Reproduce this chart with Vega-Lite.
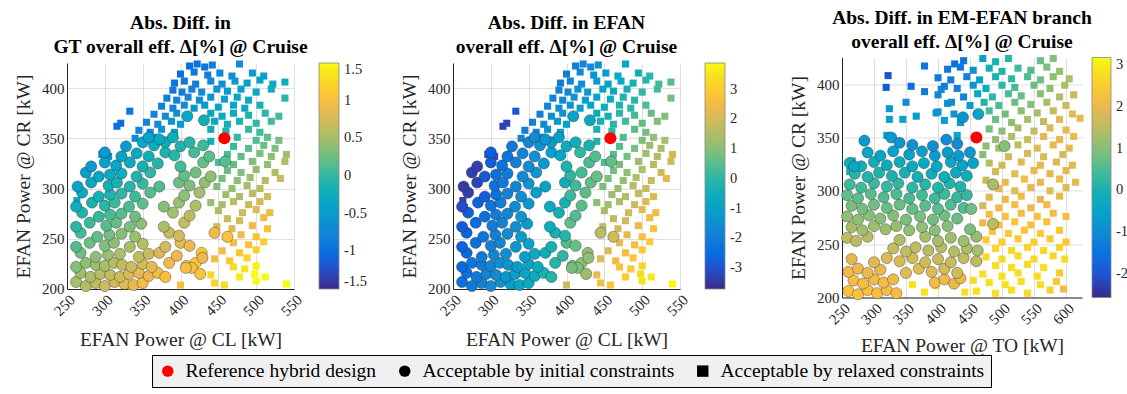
{
  "$schema": "https://vega.github.io/schema/vega-lite/v6.json",
  "background": "white",
  "padding": {"left": 13, "top": 7, "right": 0, "bottom": 0},
  "spacing": 45,
  "center": true,
  "config": {
    "font": "Liberation Serif",
    "view": {"stroke": null},
    "axis": {
      "labelFont": "Liberation Serif", "labelFontSize": 15, "labelColor": "#262626",
      "titleFont": "Liberation Serif", "titleFontSize": 19.5, "titleFontWeight": "normal", "titleColor": "#262626",
      "domainColor": "#262626", "gridColor": "#262626", "gridOpacity": 0.15,
      "ticks": false, "labelPadding": 3, "labelFlush": false, "labelOverlap": false
    },
    "axisX": {"titlePadding": 12},
    "axisY": {"titlePadding": 8},
    "title": {"font": "Liberation Serif", "fontSize": 19.5, "fontWeight": "bold", "lineHeight": 24, "color": "#000000", "frame": "group", "anchor": "middle", "offset": 3},
    "legend": {"layout": {"bottom": {"anchor": "middle"}}}
  },
  "datasets": {
    "cl_cr": [
      {"cl":262,"cr":207,"set":"i","gt":0.51,"ef":-2.4},{"cl":275,"cr":203,"set":"i","gt":0.58,"ef":-2.14},{"cl":288,"cr":206,"set":"i","gt":0.64,"ef":-1.88},{"cl":300,"cr":203,"set":"i","gt":0.70,"ef":-1.64},{"cl":313,"cr":207,"set":"i","gt":0.77,"ef":-1.38},{"cl":326,"cr":205,"set":"i","gt":0.83,"ef":-1.12},{"cl":338,"cr":204,"set":"i","gt":0.89,"ef":-0.88},{"cl":350,"cr":206,"set":"i","gt":0.95,"ef":-0.64},
      {"cl":268,"cr":216,"set":"i","gt":0.46,"ef":-2.35},{"cl":281,"cr":212,"set":"i","gt":0.53,"ef":-2.09},{"cl":294,"cr":215,"set":"i","gt":0.59,"ef":-1.83},{"cl":307,"cr":214,"set":"i","gt":0.66,"ef":-1.57},{"cl":320,"cr":212,"set":"i","gt":0.72,"ef":-1.31},{"cl":332,"cr":215,"set":"i","gt":0.78,"ef":-1.07},{"cl":345,"cr":216,"set":"i","gt":0.85,"ef":-0.81},{"cl":358,"cr":213,"set":"i","gt":0.91,"ef":-0.55},{"cl":370,"cr":216,"set":"i","gt":0.97,"ef":-0.31},{"cl":380,"cr":212,"set":"i","gt":1.02,"ef":-0.11},
      {"cl":262,"cr":222,"set":"i","gt":0.33,"ef":-2.55},{"cl":275,"cr":226,"set":"i","gt":0.40,"ef":-2.29},{"cl":288,"cr":224,"set":"i","gt":0.46,"ef":-2.03},{"cl":300,"cr":223,"set":"i","gt":0.52,"ef":-1.79},{"cl":312,"cr":226,"set":"i","gt":0.58,"ef":-1.55},{"cl":323,"cr":224,"set":"i","gt":0.64,"ef":-1.33},{"cl":335,"cr":222,"set":"i","gt":0.70,"ef":-1.09},{"cl":350,"cr":225,"set":"i","gt":0.77,"ef":-0.79},{"cl":362,"cr":222,"set":"i","gt":0.83,"ef":-0.55},{"cl":385,"cr":226,"set":"i","gt":0.95,"ef":-0.09},{"cl":408,"cr":223,"set":"i","gt":1.06,"ef":0.77},{"cl":420,"cr":226,"set":"i","gt":1.12,"ef":1.01},
      {"cl":268,"cr":236,"set":"i","gt":0.27,"ef":-2.51},{"cl":288,"cr":232,"set":"i","gt":0.37,"ef":-2.11},{"cl":304,"cr":234,"set":"i","gt":0.45,"ef":-1.79},{"cl":320,"cr":235,"set":"i","gt":0.53,"ef":-1.47},{"cl":345,"cr":232,"set":"i","gt":0.66,"ef":-0.97},{"cl":358,"cr":235,"set":"i","gt":0.72,"ef":-0.71},{"cl":372,"cr":236,"set":"i","gt":0.79,"ef":-0.43},{"cl":395,"cr":233,"set":"i","gt":0.91,"ef":0.03},{"cl":428,"cr":236,"set":"i","gt":1.07,"ef":1.09},
      {"cl":262,"cr":242,"set":"i","gt":0.14,"ef":-2.71},{"cl":280,"cr":246,"set":"i","gt":0.23,"ef":-2.35},{"cl":300,"cr":243,"set":"i","gt":0.33,"ef":-1.95},{"cl":312,"cr":246,"set":"i","gt":0.39,"ef":-1.71},{"cl":333,"cr":242,"set":"i","gt":0.50,"ef":-1.29},{"cl":350,"cr":245,"set":"i","gt":0.58,"ef":-0.95},{"cl":380,"cr":242,"set":"i","gt":0.73,"ef":-0.35},{"cl":400,"cr":246,"set":"i","gt":0.83,"ef":0.45},{"cl":412,"cr":243,"set":"i","gt":0.89,"ef":0.69},
      {"cl":268,"cr":256,"set":"i","gt":0.08,"ef":-2.67},{"cl":290,"cr":252,"set":"i","gt":0.19,"ef":-2.23},{"cl":306,"cr":254,"set":"i","gt":0.27,"ef":-1.91},{"cl":322,"cr":255,"set":"i","gt":0.35,"ef":-1.59},{"cl":340,"cr":252,"set":"i","gt":0.44,"ef":-1.23},{"cl":385,"cr":256,"set":"i","gt":0.67,"ef":-0.33},{"cl":398,"cr":253,"set":"i","gt":0.73,"ef":-0.07},{"cl":445,"cr":256,"set":"i","gt":0.97,"ef":1.7},{"cl":462,"cr":252,"set":"i","gt":1.05,"ef":2.0},
      {"cl":262,"cr":262,"set":"i","gt":-0.05,"ef":-2.87},{"cl":280,"cr":266,"set":"i","gt":0.04,"ef":-2.51},{"cl":302,"cr":263,"set":"i","gt":0.15,"ef":-2.07},{"cl":315,"cr":266,"set":"i","gt":0.22,"ef":-1.81},{"cl":333,"cr":262,"set":"i","gt":0.31,"ef":-1.45},{"cl":348,"cr":265,"set":"i","gt":0.38,"ef":-1.15},{"cl":378,"cr":262,"set":"i","gt":0.53,"ef":-0.55},{"cl":405,"cr":266,"set":"i","gt":0.67,"ef":0.59},
      {"cl":270,"cr":276,"set":"i","gt":-0.10,"ef":-2.79},{"cl":292,"cr":272,"set":"i","gt":0.01,"ef":-2.35},{"cl":307,"cr":274,"set":"i","gt":0.09,"ef":-2.05},{"cl":322,"cr":275,"set":"i","gt":0.16,"ef":-1.75},{"cl":340,"cr":272,"set":"i","gt":0.25,"ef":-1.39},{"cl":390,"cr":276,"set":"i","gt":0.50,"ef":-0.39},{"cl":412,"cr":273,"set":"i","gt":0.61,"ef":0.45},
      {"cl":262,"cr":282,"set":"i","gt":-0.24,"ef":-3.1},{"cl":283,"cr":286,"set":"i","gt":-0.14,"ef":-2.7},{"cl":300,"cr":283,"set":"i","gt":-0.05,"ef":-2.27},{"cl":313,"cr":286,"set":"i","gt":0.02,"ef":-2.01},{"cl":332,"cr":282,"set":"i","gt":0.11,"ef":-1.63},{"cl":350,"cr":285,"set":"i","gt":0.20,"ef":-1.27},{"cl":378,"cr":282,"set":"i","gt":0.34,"ef":-0.71},{"cl":398,"cr":286,"set":"i","gt":0.44,"ef":-0.31},{"cl":420,"cr":283,"set":"i","gt":0.55,"ef":0.53},
      {"cl":270,"cr":296,"set":"i","gt":-0.29,"ef":-3.3},{"cl":292,"cr":292,"set":"i","gt":-0.18,"ef":-2.8},{"cl":307,"cr":294,"set":"i","gt":-0.11,"ef":-2.3},{"cl":322,"cr":295,"set":"i","gt":-0.03,"ef":-1.91},{"cl":340,"cr":292,"set":"i","gt":0.06,"ef":-1.55},{"cl":360,"cr":296,"set":"i","gt":0.16,"ef":-1.15},{"cl":405,"cr":293,"set":"i","gt":0.39,"ef":0.15},{"cl":425,"cr":296,"set":"i","gt":0.49,"ef":0.55},
      {"cl":264,"cr":302,"set":"i","gt":-0.42,"ef":-3.4},{"cl":282,"cr":306,"set":"i","gt":-0.33,"ef":-3.2},{"cl":305,"cr":303,"set":"i","gt":-0.22,"ef":-2.4},{"cl":316,"cr":306,"set":"i","gt":-0.16,"ef":-2.11},{"cl":333,"cr":302,"set":"i","gt":-0.08,"ef":-1.77},{"cl":350,"cr":305,"set":"i","gt":0.01,"ef":-1.43},{"cl":372,"cr":302,"set":"i","gt":0.12,"ef":-0.99},{"cl":398,"cr":306,"set":"i","gt":0.25,"ef":-0.47},{"cl":412,"cr":303,"set":"i","gt":0.32,"ef":0.21},{"cl":432,"cr":306,"set":"i","gt":0.42,"ef":0.61},
      {"cl":275,"cr":316,"set":"i","gt":-0.46,"ef":-3.3},{"cl":292,"cr":312,"set":"i","gt":-0.37,"ef":-2.9},{"cl":307,"cr":314,"set":"i","gt":-0.29,"ef":-2.4},{"cl":322,"cr":315,"set":"i","gt":-0.22,"ef":-2.07},{"cl":342,"cr":312,"set":"i","gt":-0.12,"ef":-1.67},{"cl":360,"cr":316,"set":"i","gt":-0.03,"ef":-1.31},{"cl":405,"cr":313,"set":"i","gt":0.20,"ef":0.0},{"cl":420,"cr":316,"set":"i","gt":0.27,"ef":0.29},{"cl":440,"cr":312,"set":"i","gt":0.37,"ef":0.69},
      {"cl":282,"cr":322,"set":"i","gt":-0.52,"ef":-3.3},{"cl":300,"cr":326,"set":"i","gt":-0.43,"ef":-2.8},{"cl":315,"cr":323,"set":"i","gt":-0.36,"ef":-2.29},{"cl":333,"cr":326,"set":"i","gt":-0.27,"ef":-1.93},{"cl":350,"cr":322,"set":"i","gt":-0.18,"ef":-1.59},{"cl":370,"cr":325,"set":"i","gt":-0.08,"ef":-1.19},{"cl":400,"cr":322,"set":"i","gt":0.07,"ef":-0.19},{"cl":430,"cr":326,"set":"i","gt":0.22,"ef":0.41},
      {"cl":300,"cr":336,"set":"i","gt":-0.52,"ef":-2.7},{"cl":322,"cr":332,"set":"i","gt":-0.41,"ef":-2.23},{"cl":342,"cr":335,"set":"i","gt":-0.31,"ef":-1.83},{"cl":358,"cr":332,"set":"i","gt":-0.23,"ef":-1.51},{"cl":380,"cr":336,"set":"i","gt":-0.12,"ef":-1.07},{"cl":392,"cr":333,"set":"i","gt":-0.06,"ef":-0.83},{"cl":418,"cr":336,"set":"i","gt":0.07,"ef":0.09},{"cl":438,"cr":332,"set":"i","gt":0.17,"ef":0.49},
      {"cl":328,"cr":342,"set":"i","gt":-0.48,"ef":-2.19},{"cl":350,"cr":346,"set":"i","gt":-0.37,"ef":-1.75},{"cl":365,"cr":343,"set":"i","gt":-0.30,"ef":-1.45},{"cl":380,"cr":346,"set":"i","gt":-0.22,"ef":-1.15},{"cl":400,"cr":342,"set":"i","gt":-0.12,"ef":-0.6},{"cl":412,"cr":346,"set":"i","gt":-0.06,"ef":-0.45},{"cl":430,"cr":343,"set":"i","gt":0.03,"ef":-0.3},
      {"cl":358,"cr":351,"set":"i","gt":-0.39,"ef":-1.64},{"cl":372,"cr":349,"set":"i","gt":-0.32,"ef":-1.36},{"cl":390,"cr":351,"set":"i","gt":-0.23,"ef":-1.0},
      {"cl":409,"cr":372,"set":"i","gt":-0.34,"ef":-0.9},{"cl":431,"cr":368,"set":"i","gt":-0.19,"ef":-0.7},{"cl":459,"cr":327,"set":"i","gt":0.15,"ef":0.6},{"cl":429,"cr":231,"set":"i","gt":0.9,"ef":1.1},{"cl":415,"cr":221,"set":"i","gt":1.0,"ef":0.9},{"cl":426,"cr":215,"set":"i","gt":1.1,"ef":1.3},{"cl":407,"cr":221,"set":"i","gt":1.0,"ef":0.8},

      {"cl":412,"cr":422,"set":"r","gt":-1.0,"ef":-1.96},{"cl":422,"cr":424,"set":"r","gt":-0.95,"ef":-1.79},{"cl":432,"cr":421,"set":"r","gt":-0.90,"ef":-1.61},{"cl":442,"cr":423,"set":"r","gt":-0.85,"ef":-1.44},{"cl":478,"cr":424,"set":"r","gt":-0.67,"ef":-0.82},
      {"cl":400,"cr":414,"set":"r","gt":-0.98,"ef":-2.02},{"cl":418,"cr":416,"set":"r","gt":-0.89,"ef":-1.71},{"cl":436,"cr":413,"set":"r","gt":-0.80,"ef":-1.40},{"cl":452,"cr":415,"set":"r","gt":-0.72,"ef":-1.12},{"cl":468,"cr":412,"set":"r","gt":-0.64,"ef":-0.84},{"cl":495,"cr":415,"set":"r","gt":-0.51,"ef":-0.38},{"cl":510,"cr":412,"set":"r","gt":-0.43,"ef":-0.12},
      {"cl":392,"cr":405,"set":"r","gt":-0.95,"ef":-2.01},{"cl":405,"cr":407,"set":"r","gt":-0.88,"ef":-1.79},{"cl":420,"cr":404,"set":"r","gt":-0.81,"ef":-1.53},{"cl":440,"cr":407,"set":"r","gt":-0.71,"ef":-1.18},{"cl":455,"cr":404,"set":"r","gt":-0.63,"ef":-0.92},{"cl":472,"cr":407,"set":"r","gt":-0.55,"ef":-0.63},{"cl":488,"cr":405,"set":"r","gt":-0.47,"ef":-0.35},{"cl":505,"cr":408,"set":"r","gt":-0.38,"ef":-0.06},{"cl":522,"cr":404,"set":"r","gt":-0.30,"ef":0.24},{"cl":538,"cr":406,"set":"r","gt":-0.22,"ef":0.51},
      {"cl":390,"cr":398,"set":"r","gt":-0.88,"ef":-1.90},{"cl":402,"cr":396,"set":"r","gt":-0.82,"ef":-1.69},{"cl":415,"cr":399,"set":"r","gt":-0.76,"ef":-1.47},{"cl":428,"cr":396,"set":"r","gt":-0.69,"ef":-1.24},{"cl":448,"cr":399,"set":"r","gt":-0.59,"ef":-0.90},{"cl":462,"cr":397,"set":"r","gt":-0.52,"ef":-0.65},{"cl":480,"cr":399,"set":"r","gt":-0.43,"ef":-0.34},{"cl":500,"cr":396,"set":"r","gt":-0.33,"ef":0.0},{"cl":520,"cr":399,"set":"r","gt":-0.23,"ef":0.35},
      {"cl":382,"cr":390,"set":"r","gt":-0.85,"ef":-1.89},{"cl":395,"cr":388,"set":"r","gt":-0.78,"ef":-1.67},{"cl":410,"cr":391,"set":"r","gt":-0.71,"ef":-1.41},{"cl":425,"cr":388,"set":"r","gt":-0.63,"ef":-1.15},{"cl":440,"cr":391,"set":"r","gt":-0.56,"ef":-0.89},{"cl":458,"cr":389,"set":"r","gt":-0.47,"ef":-0.58},{"cl":475,"cr":391,"set":"r","gt":-0.38,"ef":-0.28},{"cl":490,"cr":388,"set":"r","gt":-0.31,"ef":-0.02},{"cl":538,"cr":390,"set":"r","gt":-0.07,"ef":0.81},
      {"cl":375,"cr":382,"set":"r","gt":-0.80,"ef":-1.87},{"cl":390,"cr":380,"set":"r","gt":-0.73,"ef":-1.61},{"cl":405,"cr":383,"set":"r","gt":-0.65,"ef":-1.35},{"cl":418,"cr":380,"set":"r","gt":-0.59,"ef":-1.12},{"cl":432,"cr":383,"set":"r","gt":-0.52,"ef":-0.88},{"cl":450,"cr":381,"set":"r","gt":-0.43,"ef":-0.57},{"cl":470,"cr":383,"set":"r","gt":-0.33,"ef":-0.22},{"cl":485,"cr":380,"set":"r","gt":-0.25,"ef":0.04},{"cl":505,"cr":383,"set":"r","gt":-0.15,"ef":0.38},
      {"cl":365,"cr":374,"set":"r","gt":-0.78,"ef":-1.89},{"cl":380,"cr":372,"set":"r","gt":-0.70,"ef":-1.63},{"cl":395,"cr":375,"set":"r","gt":-0.63,"ef":-1.37},{"cl":410,"cr":372,"set":"r","gt":-0.55,"ef":-1.11},{"cl":440,"cr":375,"set":"r","gt":-0.40,"ef":-0.60},{"cl":455,"cr":372,"set":"r","gt":-0.33,"ef":-0.34},{"cl":470,"cr":375,"set":"r","gt":-0.25,"ef":-0.08},{"cl":490,"cr":373,"set":"r","gt":-0.15,"ef":0.27},{"cl":512,"cr":375,"set":"r","gt":-0.04,"ef":0.65},{"cl":530,"cr":372,"set":"r","gt":0.05,"ef":0.96},
      {"cl":355,"cr":366,"set":"r","gt":-0.75,"ef":-1.92},{"cl":370,"cr":364,"set":"r","gt":-0.68,"ef":-1.66},{"cl":388,"cr":367,"set":"r","gt":-0.59,"ef":-1.35},{"cl":400,"cr":364,"set":"r","gt":-0.53,"ef":-1.14},{"cl":445,"cr":367,"set":"r","gt":-0.30,"ef":-0.36},{"cl":462,"cr":364,"set":"r","gt":-0.22,"ef":-0.07},{"cl":478,"cr":367,"set":"r","gt":-0.14,"ef":0.21},{"cl":500,"cr":365,"set":"r","gt":-0.03,"ef":0.59},{"cl":520,"cr":367,"set":"r","gt":0.07,"ef":0.94},
      {"cl":345,"cr":358,"set":"r","gt":-0.73,"ef":-1.95},{"cl":360,"cr":356,"set":"r","gt":-0.65,"ef":-1.69},{"cl":375,"cr":359,"set":"r","gt":-0.58,"ef":-1.43},{"cl":392,"cr":356,"set":"r","gt":-0.49,"ef":-1.13},{"cl":440,"cr":359,"set":"r","gt":-0.25,"ef":-0.30},{"cl":460,"cr":357,"set":"r","gt":-0.15,"ef":0.04},{"cl":490,"cr":359,"set":"r","gt":0.0,"ef":0.56},{"cl":505,"cr":356,"set":"r","gt":0.07,"ef":0.82},
      {"cl":340,"cr":350,"set":"r","gt":-0.68,"ef":-1.89},{"cl":352,"cr":348,"set":"r","gt":-0.62,"ef":-1.68},{"cl":368,"cr":351,"set":"r","gt":-0.54,"ef":-1.40},{"cl":380,"cr":348,"set":"r","gt":-0.48,"ef":-1.19},{"cl":440,"cr":347,"set":"r","gt":-0.18,"ef":-0.16},{"cl":475,"cr":351,"set":"r","gt":0.0,"ef":0.45},{"cl":500,"cr":348,"set":"r","gt":0.13,"ef":0.88},{"cl":515,"cr":351,"set":"r","gt":0.20,"ef":1.14},{"cl":530,"cr":348,"set":"r","gt":0.28,"ef":1.40},
      {"cl":470,"cr":342,"set":"r","gt":0.05,"ef":0.51},{"cl":490,"cr":340,"set":"r","gt":0.15,"ef":0.86},{"cl":510,"cr":343,"set":"r","gt":0.25,"ef":1.20},{"cl":525,"cr":340,"set":"r","gt":0.33,"ef":1.46},
      {"cl":462,"cr":334,"set":"r","gt":0.09,"ef":0.52},{"cl":480,"cr":332,"set":"r","gt":0.18,"ef":0.83},{"cl":505,"cr":335,"set":"r","gt":0.30,"ef":1.26},{"cl":520,"cr":332,"set":"r","gt":0.38,"ef":1.52},{"cl":540,"cr":334,"set":"r","gt":0.48,"ef":1.87},
      {"cl":450,"cr":326,"set":"r","gt":0.10,"ef":0.46},{"cl":470,"cr":324,"set":"r","gt":0.20,"ef":0.80},{"cl":495,"cr":327,"set":"r","gt":0.33,"ef":1.23},{"cl":515,"cr":324,"set":"r","gt":0.43,"ef":1.58},{"cl":538,"cr":327,"set":"r","gt":0.54,"ef":1.98},
      {"cl":462,"cr":318,"set":"r","gt":0.24,"ef":0.81},{"cl":480,"cr":316,"set":"r","gt":0.33,"ef":1.12},{"cl":500,"cr":319,"set":"r","gt":0.43,"ef":1.47},{"cl":525,"cr":316,"set":"r","gt":0.55,"ef":1.90},
      {"cl":455,"cr":310,"set":"r","gt":0.28,"ef":0.84},{"cl":475,"cr":308,"set":"r","gt":0.38,"ef":1.18},{"cl":492,"cr":311,"set":"r","gt":0.47,"ef":1.48},{"cl":512,"cr":308,"set":"r","gt":0.57,"ef":1.82},{"cl":532,"cr":310,"set":"r","gt":0.67,"ef":2.17},
      {"cl":448,"cr":302,"set":"r","gt":0.32,"ef":0.86},{"cl":468,"cr":300,"set":"r","gt":0.42,"ef":1.21},{"cl":488,"cr":303,"set":"r","gt":0.52,"ef":1.55},{"cl":505,"cr":300,"set":"r","gt":0.61,"ef":1.85},
      {"cl":460,"cr":294,"set":"r","gt":0.46,"ef":1.22},{"cl":478,"cr":292,"set":"r","gt":0.55,"ef":1.53},{"cl":495,"cr":295,"set":"r","gt":0.63,"ef":1.82},{"cl":515,"cr":292,"set":"r","gt":0.73,"ef":2.17},
      {"cl":440,"cr":286,"set":"r","gt":0.43,"ef":1.02},{"cl":455,"cr":284,"set":"r","gt":0.51,"ef":1.27},{"cl":470,"cr":287,"set":"r","gt":0.58,"ef":1.53},{"cl":490,"cr":284,"set":"r","gt":0.68,"ef":1.88},{"cl":505,"cr":287,"set":"r","gt":0.76,"ef":2.14},
      {"cl":450,"cr":278,"set":"r","gt":0.56,"ef":1.34},{"cl":482,"cr":276,"set":"r","gt":0.72,"ef":1.89},{"cl":500,"cr":279,"set":"r","gt":0.81,"ef":2.20},{"cl":518,"cr":276,"set":"r","gt":0.90,"ef":2.51},
      {"cl":462,"cr":270,"set":"r","gt":0.70,"ef":1.69},{"cl":478,"cr":268,"set":"r","gt":0.78,"ef":1.97},{"cl":510,"cr":271,"set":"r","gt":0.94,"ef":2.52},
      {"cl":448,"cr":262,"set":"r","gt":0.70,"ef":1.59},{"cl":468,"cr":260,"set":"r","gt":0.80,"ef":1.94},{"cl":495,"cr":263,"set":"r","gt":0.94,"ef":2.41},{"cl":515,"cr":260,"set":"r","gt":1.04,"ef":2.75},
      {"cl":480,"cr":254,"set":"r","gt":0.94,"ef":2.29},{"cl":500,"cr":252,"set":"r","gt":1.04,"ef":2.64},
      {"cl":470,"cr":246,"set":"r","gt":0.96,"ef":2.27},{"cl":490,"cr":244,"set":"r","gt":1.06,"ef":2.61},{"cl":510,"cr":247,"set":"r","gt":1.16,"ef":2.96},
      {"cl":455,"cr":238,"set":"r","gt":0.96,"ef":2.15},{"cl":478,"cr":236,"set":"r","gt":1.08,"ef":2.55},{"cl":500,"cr":239,"set":"r","gt":1.19,"ef":2.93},
      {"cl":445,"cr":230,"set":"r","gt":0.99,"ef":2.13},{"cl":465,"cr":228,"set":"r","gt":1.09,"ef":2.47},{"cl":488,"cr":231,"set":"r","gt":1.21,"ef":2.87},
      {"cl":470,"cr":222,"set":"r","gt":1.29,"ef":2.71},{"cl":485,"cr":220,"set":"r","gt":1.37,"ef":2.96},{"cl":500,"cr":223,"set":"r","gt":1.44,"ef":3.22},
      {"cl":440,"cr":214,"set":"r","gt":1.22,"ef":2.33},{"cl":478,"cr":212,"set":"r","gt":1.41,"ef":2.99},{"cl":498,"cr":215,"set":"r","gt":1.5,"ef":3.34},{"cl":512,"cr":212,"set":"r","gt":1.5,"ef":3.58},
      {"cl":335,"cr":203,"set":"r","gt":1.0,"ef":0.0},{"cl":400,"cr":204,"set":"r","gt":0.99,"ef":1.79},{"cl":445,"cr":206,"set":"r","gt":1.22,"ef":2.57},{"cl":458,"cr":204,"set":"r","gt":1.28,"ef":2.79},{"cl":500,"cr":208,"set":"r","gt":1.49,"ef":3.52},{"cl":540,"cr":205,"set":"r","gt":1.5,"ef":3.8},
      {"cl":316,"cr":362,"set":"r","gt":-1.0,"ef":-3.3},{"cl":321,"cr":365,"set":"r","gt":-1.0,"ef":-3.2},{"cl":333,"cr":377,"set":"r","gt":-0.9,"ef":-2.9},{"cl":296,"cr":334,"set":"r","gt":-0.65,"ef":-3.2},{"cl":305,"cr":332,"set":"r","gt":-0.6,"ef":-3.1},{"cl":263,"cr":288,"set":"r","gt":-0.35,"ef":-3.3},{"cl":265,"cr":281,"set":"r","gt":-0.3,"ef":-3.2}
    ],
    "to_cr": [
      {"to":260,"cr":206,"set":"i","br":2.33},{"to":275,"cr":203,"set":"i","br":2.3},{"to":290,"cr":207,"set":"i","br":2.27},{"to":305,"cr":204,"set":"i","br":2.24},{"to":320,"cr":207,"set":"i","br":2.21},{"to":335,"cr":204,"set":"i","br":2.18},
      {"to":268,"cr":216,"set":"i","br":2.21},{"to":283,"cr":213,"set":"i","br":2.18},{"to":300,"cr":217,"set":"i","br":2.15},{"to":315,"cr":214,"set":"i","br":2.12},{"to":330,"cr":217,"set":"i","br":2.09},{"to":395,"cr":214,"set":"i","br":2.1},{"to":410,"cr":217,"set":"i","br":2.1},{"to":425,"cr":213,"set":"i","br":2.05},{"to":435,"cr":218,"set":"i","br":2.05},
      {"to":260,"cr":224,"set":"i","br":2.08},{"to":275,"cr":227,"set":"i","br":2.05},{"to":290,"cr":223,"set":"i","br":2.02},{"to":310,"cr":226,"set":"i","br":1.98},{"to":350,"cr":223,"set":"i","br":1.9},{"to":370,"cr":227,"set":"i","br":1.86},{"to":390,"cr":224,"set":"i","br":1.82},{"to":410,"cr":227,"set":"i","br":1.78},{"to":430,"cr":223,"set":"i","br":1.74},
      {"to":265,"cr":236,"set":"i","br":1.92},{"to":300,"cr":233,"set":"i","br":1.85},{"to":320,"cr":237,"set":"i","br":1.81},{"to":340,"cr":234,"set":"i","br":1.77},{"to":360,"cr":237,"set":"i","br":1.73},{"to":380,"cr":233,"set":"i","br":1.69},{"to":400,"cr":236,"set":"i","br":1.65},{"to":420,"cr":233,"set":"i","br":1.61},{"to":440,"cr":237,"set":"i","br":1.57},{"to":460,"cr":234,"set":"i","br":1.53},
      {"to":330,"cr":246,"set":"i","br":1.59},{"to":350,"cr":243,"set":"i","br":1.55},{"to":365,"cr":247,"set":"i","br":1.52},{"to":385,"cr":244,"set":"i","br":1.48},{"to":405,"cr":247,"set":"i","br":1.44},{"to":425,"cr":243,"set":"i","br":1.40},{"to":445,"cr":246,"set":"i","br":1.36},{"to":462,"cr":244,"set":"i","br":1.33},
      {"to":258,"cr":256,"set":"i","br":1.53},{"to":272,"cr":253,"set":"i","br":1.51},{"to":290,"cr":257,"set":"i","br":1.47},{"to":340,"cr":254,"set":"i","br":1.37},{"to":380,"cr":257,"set":"i","br":1.29},{"to":400,"cr":253,"set":"i","br":1.25},{"to":420,"cr":256,"set":"i","br":1.21},{"to":440,"cr":253,"set":"i","br":1.17},{"to":460,"cr":257,"set":"i","br":1.13},
      {"to":265,"cr":266,"set":"i","br":1.27},{"to":282,"cr":263,"set":"i","br":1.24},{"to":300,"cr":267,"set":"i","br":1.2},{"to":318,"cr":264,"set":"i","br":1.16},{"to":335,"cr":267,"set":"i","br":1.13},{"to":355,"cr":263,"set":"i","br":1.09},{"to":375,"cr":266,"set":"i","br":1.05},{"to":395,"cr":263,"set":"i","br":1.01},{"to":415,"cr":267,"set":"i","br":0.97},{"to":450,"cr":264,"set":"i","br":0.9},{"to":486,"cr":269,"set":"i","br":1.5},
      {"to":258,"cr":276,"set":"i","br":1.08},{"to":275,"cr":273,"set":"i","br":1.05},{"to":292,"cr":277,"set":"i","br":1.02},{"to":310,"cr":274,"set":"i","br":0.98},{"to":330,"cr":277,"set":"i","br":0.94},{"to":350,"cr":273,"set":"i","br":0.9},{"to":372,"cr":276,"set":"i","br":0.86},{"to":392,"cr":273,"set":"i","br":0.82},{"to":410,"cr":277,"set":"i","br":0.78},{"to":430,"cr":274,"set":"i","br":0.74},
      {"to":265,"cr":286,"set":"i","br":0.87},{"to":282,"cr":283,"set":"i","br":0.84},{"to":300,"cr":287,"set":"i","br":0.8},{"to":320,"cr":284,"set":"i","br":0.76},{"to":340,"cr":287,"set":"i","br":0.72},{"to":360,"cr":283,"set":"i","br":0.68},{"to":380,"cr":286,"set":"i","br":0.64},{"to":400,"cr":283,"set":"i","br":0.6},{"to":420,"cr":287,"set":"i","br":0.56},{"to":440,"cr":284,"set":"i","br":0.52},{"to":452,"cr":283,"set":"i","br":0.8},
      {"to":258,"cr":296,"set":"i","br":0.68},{"to":275,"cr":293,"set":"i","br":0.65},{"to":295,"cr":297,"set":"i","br":0.61},{"to":315,"cr":294,"set":"i","br":0.57},{"to":335,"cr":297,"set":"i","br":0.53},{"to":355,"cr":293,"set":"i","br":0.49},{"to":375,"cr":296,"set":"i","br":0.45},{"to":395,"cr":293,"set":"i","br":0.41},{"to":410,"cr":297,"set":"i","br":0.38},{"to":430,"cr":294,"set":"i","br":0.34},{"to":445,"cr":296,"set":"i","br":0.31},
      {"to":262,"cr":306,"set":"i","br":0.43},{"to":280,"cr":303,"set":"i","br":0.39},{"to":300,"cr":307,"set":"i","br":0.35},{"to":320,"cr":304,"set":"i","br":0.31},{"to":338,"cr":307,"set":"i","br":0.27},{"to":360,"cr":303,"set":"i","br":0.23},{"to":380,"cr":306,"set":"i","br":0.19},{"to":400,"cr":303,"set":"i","br":0.15},{"to":418,"cr":307,"set":"i","br":0.11},{"to":435,"cr":304,"set":"i","br":0.08},{"to":486,"cr":306,"set":"i","br":1.3},
      {"to":270,"cr":316,"set":"i","br":0.16},{"to":290,"cr":313,"set":"i","br":0.12},{"to":308,"cr":317,"set":"i","br":0.08},{"to":328,"cr":314,"set":"i","br":0.04},{"to":348,"cr":317,"set":"i","br":0.0},{"to":368,"cr":313,"set":"i","br":-0.04},{"to":390,"cr":316,"set":"i","br":-0.08},{"to":410,"cr":313,"set":"i","br":-0.12},{"to":428,"cr":317,"set":"i","br":-0.16},{"to":445,"cr":314,"set":"i","br":-0.19},
      {"to":262,"cr":326,"set":"i","br":-0.07},{"to":280,"cr":323,"set":"i","br":-0.11},{"to":300,"cr":327,"set":"i","br":-0.15},{"to":320,"cr":324,"set":"i","br":-0.19},{"to":340,"cr":327,"set":"i","br":-0.23},{"to":360,"cr":323,"set":"i","br":-0.27},{"to":378,"cr":326,"set":"i","br":-0.31},{"to":398,"cr":323,"set":"i","br":-0.35},{"to":420,"cr":327,"set":"i","br":-0.39},{"to":438,"cr":324,"set":"i","br":-0.43},{"to":455,"cr":326,"set":"i","br":-0.46},
      {"to":290,"cr":336,"set":"i","br":-0.38},{"to":310,"cr":333,"set":"i","br":-0.42},{"to":330,"cr":337,"set":"i","br":-0.46},{"to":355,"cr":334,"set":"i","br":-0.51},{"to":375,"cr":337,"set":"i","br":-0.55},{"to":395,"cr":333,"set":"i","br":-0.59},{"to":415,"cr":336,"set":"i","br":-0.63},{"to":432,"cr":333,"set":"i","br":-0.66},{"to":450,"cr":336,"set":"i","br":-0.7},
      {"to":285,"cr":347,"set":"i","br":-0.67},{"to":327,"cr":350,"set":"i","br":-0.75},{"to":340,"cr":345,"set":"i","br":-0.78},{"to":360,"cr":343,"set":"i","br":-0.82},{"to":392,"cr":342,"set":"i","br":-0.88},{"to":413,"cr":348,"set":"i","br":-0.93},{"to":430,"cr":344,"set":"i","br":-0.96},
      {"to":269,"cr":323,"set":"i","br":-0.3},{"to":439,"cr":369,"set":"i","br":-0.8},{"to":463,"cr":372,"set":"i","br":-0.4},{"to":504,"cr":342,"set":"i","br":1.0},

      {"to":322,"cr":408,"set":"r","br":-2.0},{"to":319,"cr":397,"set":"r","br":-1.9},{"to":358,"cr":398,"set":"r","br":-1.6},{"to":379,"cr":417,"set":"r","br":-1.4},{"to":379,"cr":393,"set":"r","br":-1.3},{"to":426,"cr":419,"set":"r","br":-1.5},{"to":324,"cr":377,"set":"r","br":-0.7},{"to":350,"cr":383,"set":"r","br":-0.9},{"to":324,"cr":367,"set":"r","br":-0.5},{"to":345,"cr":367,"set":"r","br":-0.4},{"to":366,"cr":370,"set":"r","br":-0.6},{"to":397,"cr":373,"set":"r","br":-0.7},{"to":405,"cr":395,"set":"r","br":-1.1},{"to":421,"cr":383,"set":"r","br":-0.9},{"to":262,"cr":318,"set":"r","br":0.0},{"to":266,"cr":328,"set":"r","br":-0.2},{"to":320,"cr":352,"set":"r","br":-0.4},
      {"to":440,"cr":422,"set":"r","br":-1.41},{"to":470,"cr":424,"set":"r","br":-0.44},{"to":490,"cr":421,"set":"r","br":-0.01},{"to":510,"cr":424,"set":"r","br":0.19},{"to":560,"cr":422,"set":"r","br":0.72},{"to":580,"cr":424,"set":"r","br":0.96},
      {"to":415,"cr":414,"set":"r","br":-1.37},{"to":435,"cr":416,"set":"r","br":-1.37},{"to":455,"cr":413,"set":"r","br":-0.88},{"to":480,"cr":415,"set":"r","br":-0.07},{"to":500,"cr":412,"set":"r","br":0.13},{"to":525,"cr":415,"set":"r","br":0.38},{"to":545,"cr":413,"set":"r","br":0.59},{"to":570,"cr":416,"set":"r","br":0.88},{"to":590,"cr":412,"set":"r","br":1.12},
      {"to":400,"cr":406,"set":"r","br":-1.33},{"to":420,"cr":404,"set":"r","br":-1.33},{"to":445,"cr":407,"set":"r","br":-1.17},{"to":465,"cr":404,"set":"r","br":-0.52},{"to":490,"cr":407,"set":"r","br":0.07},{"to":515,"cr":405,"set":"r","br":0.32},{"to":540,"cr":407,"set":"r","br":0.57},{"to":560,"cr":404,"set":"r","br":0.80},{"to":580,"cr":407,"set":"r","br":1.04},{"to":605,"cr":405,"set":"r","br":1.33},
      {"to":410,"cr":398,"set":"r","br":-1.26},{"to":430,"cr":396,"set":"r","br":-1.26},{"to":455,"cr":399,"set":"r","br":-0.77},{"to":475,"cr":396,"set":"r","br":-0.12},{"to":500,"cr":399,"set":"r","br":0.24},{"to":520,"cr":397,"set":"r","br":0.44},{"to":550,"cr":399,"set":"r","br":0.76},{"to":575,"cr":396,"set":"r","br":1.05},{"to":598,"cr":399,"set":"r","br":1.32},
      {"to":400,"cr":390,"set":"r","br":-1.1},{"to":440,"cr":388,"set":"r","br":-1.1},{"to":462,"cr":391,"set":"r","br":-0.39},{"to":485,"cr":388,"set":"r","br":0.25},{"to":510,"cr":391,"set":"r","br":0.5},{"to":530,"cr":389,"set":"r","br":0.7},{"to":560,"cr":391,"set":"r","br":1.03},{"to":590,"cr":388,"set":"r","br":1.39},{"to":612,"cr":390,"set":"r","br":1.6},
      {"to":415,"cr":382,"set":"r","br":-0.94},{"to":450,"cr":380,"set":"r","br":-0.61},{"to":472,"cr":383,"set":"r","br":0.1},{"to":495,"cr":380,"set":"r","br":0.51},{"to":520,"cr":383,"set":"r","br":0.76},{"to":545,"cr":381,"set":"r","br":1.02},{"to":570,"cr":383,"set":"r","br":1.31},{"to":600,"cr":380,"set":"r","br":1.66},
      {"to":400,"cr":374,"set":"r","br":-0.78},{"to":425,"cr":372,"set":"r","br":-0.78},{"to":480,"cr":375,"set":"r","br":0.52},{"to":505,"cr":372,"set":"r","br":0.77},{"to":530,"cr":375,"set":"r","br":1.02},{"to":555,"cr":373,"set":"r","br":1.3},{"to":580,"cr":375,"set":"r","br":1.59},{"to":610,"cr":372,"set":"r","br":1.94},
      {"to":410,"cr":366,"set":"r","br":-0.62},{"to":435,"cr":364,"set":"r","br":-0.62},{"to":490,"cr":367,"set":"r","br":0.78},{"to":515,"cr":364,"set":"r","br":1.03},{"to":540,"cr":367,"set":"r","br":1.28},{"to":565,"cr":365,"set":"r","br":1.56},{"to":590,"cr":367,"set":"r","br":1.85},{"to":622,"cr":368,"set":"r","br":2.0},
      {"to":480,"cr":358,"set":"r","br":0.84},{"to":500,"cr":356,"set":"r","br":1.04},{"to":525,"cr":359,"set":"r","br":1.29},{"to":550,"cr":356,"set":"r","br":1.56},{"to":575,"cr":359,"set":"r","br":1.85},{"to":600,"cr":357,"set":"r","br":2.0},
      {"to":430,"cr":352,"set":"r","br":-0.3},{"to":490,"cr":348,"set":"r","br":1.1},{"to":515,"cr":351,"set":"r","br":1.35},{"to":540,"cr":348,"set":"r","br":1.6},{"to":565,"cr":351,"set":"r","br":1.9},{"to":590,"cr":348,"set":"r","br":2.0},{"to":612,"cr":351,"set":"r","br":2.0},
      {"to":475,"cr":342,"set":"r","br":1.0},{"to":495,"cr":340,"set":"r","br":1.31},{"to":525,"cr":343,"set":"r","br":1.61},{"to":555,"cr":340,"set":"r","br":1.9},{"to":580,"cr":343,"set":"r","br":2.0},{"to":605,"cr":340,"set":"r","br":2.0},
      {"to":470,"cr":334,"set":"r","br":1.0},{"to":510,"cr":332,"set":"r","br":1.62},{"to":540,"cr":335,"set":"r","br":1.75},{"to":565,"cr":332,"set":"r","br":1.8},{"to":595,"cr":334,"set":"r","br":1.7},
      {"to":480,"cr":326,"set":"r","br":1.48},{"to":500,"cr":324,"set":"r","br":1.68},{"to":530,"cr":327,"set":"r","br":1.85},{"to":560,"cr":324,"set":"r","br":1.9},{"to":585,"cr":327,"set":"r","br":1.8},{"to":610,"cr":324,"set":"r","br":1.85},
      {"to":490,"cr":318,"set":"r","br":1.74},{"to":520,"cr":316,"set":"r","br":1.94},{"to":550,"cr":319,"set":"r","br":2.0},{"to":575,"cr":316,"set":"r","br":1.9},{"to":600,"cr":319,"set":"r","br":1.95},
      {"to":475,"cr":310,"set":"r","br":1.64},{"to":505,"cr":308,"set":"r","br":2.04},{"to":535,"cr":311,"set":"r","br":2.1},{"to":560,"cr":308,"set":"r","br":2.0},{"to":590,"cr":311,"set":"r","br":2.05},{"to":615,"cr":308,"set":"r","br":2.0},
      {"to":495,"cr":302,"set":"r","br":1.86},{"to":520,"cr":300,"set":"r","br":1.89},{"to":545,"cr":303,"set":"r","br":1.95},{"to":575,"cr":300,"set":"r","br":1.85},{"to":600,"cr":303,"set":"r","br":1.89},
      {"to":480,"cr":294,"set":"r","br":1.87},{"to":505,"cr":292,"set":"r","br":1.98},{"to":530,"cr":295,"set":"r","br":2.05},{"to":560,"cr":292,"set":"r","br":1.95},{"to":590,"cr":295,"set":"r","br":2.0},
      {"to":470,"cr":286,"set":"r","br":1.75},{"to":495,"cr":284,"set":"r","br":2.08},{"to":520,"cr":287,"set":"r","br":2.15},{"to":545,"cr":284,"set":"r","br":2.05},{"to":570,"cr":287,"set":"r","br":2.1},
      {"to":480,"cr":278,"set":"r","br":2.17},{"to":505,"cr":276,"set":"r","br":2.2},{"to":530,"cr":279,"set":"r","br":2.15},{"to":555,"cr":276,"set":"r","br":2.25},{"to":580,"cr":279,"set":"r","br":2.17},{"to":600,"cr":276,"set":"r","br":2.15},
      {"to":470,"cr":270,"set":"r","br":2.05},{"to":495,"cr":268,"set":"r","br":2.27},{"to":520,"cr":271,"set":"r","br":2.35},{"to":545,"cr":268,"set":"r","br":2.25},{"to":570,"cr":271,"set":"r","br":2.3},
      {"to":485,"cr":262,"set":"r","br":2.37},{"to":510,"cr":260,"set":"r","br":2.45},{"to":535,"cr":263,"set":"r","br":2.37},{"to":560,"cr":260,"set":"r","br":2.43},{"to":590,"cr":263,"set":"r","br":2.35},
      {"to":475,"cr":254,"set":"r","br":2.46},{"to":500,"cr":252,"set":"r","br":2.5},{"to":525,"cr":255,"set":"r","br":2.45},{"to":550,"cr":252,"set":"r","br":2.53},{"to":575,"cr":255,"set":"r","br":2.45},{"to":600,"cr":252,"set":"r","br":2.4},
      {"to":490,"cr":246,"set":"r","br":2.66},{"to":515,"cr":244,"set":"r","br":2.7},{"to":540,"cr":247,"set":"r","br":2.65},{"to":565,"cr":244,"set":"r","br":2.7},{"to":590,"cr":247,"set":"r","br":2.6},
      {"to":475,"cr":238,"set":"r","br":2.75},{"to":500,"cr":236,"set":"r","br":2.77},{"to":525,"cr":239,"set":"r","br":2.73},{"to":550,"cr":236,"set":"r","br":2.75},{"to":580,"cr":239,"set":"r","br":2.65},{"to":598,"cr":236,"set":"r","br":2.7},
      {"to":490,"cr":230,"set":"r","br":2.8},{"to":515,"cr":228,"set":"r","br":2.83},{"to":540,"cr":231,"set":"r","br":2.77},{"to":565,"cr":228,"set":"r","br":2.8},
      {"to":470,"cr":222,"set":"r","br":2.8},{"to":500,"cr":220,"set":"r","br":2.85},{"to":525,"cr":223,"set":"r","br":2.8},{"to":555,"cr":220,"set":"r","br":2.75},{"to":590,"cr":223,"set":"r","br":2.45},
      {"to":480,"cr":214,"set":"r","br":2.85},{"to":505,"cr":212,"set":"r","br":2.85},{"to":530,"cr":215,"set":"r","br":2.8},{"to":560,"cr":212,"set":"r","br":2.75},{"to":585,"cr":215,"set":"r","br":2.45},
      {"to":460,"cr":206,"set":"r","br":2.85},{"to":490,"cr":204,"set":"r","br":2.9},{"to":515,"cr":207,"set":"r","br":2.85},{"to":540,"cr":204,"set":"r","br":2.75},{"to":575,"cr":207,"set":"r","br":2.55},{"to":596,"cr":208,"set":"r","br":2.1},
      {"to":379,"cr":205,"set":"r","br":2.9},{"to":397,"cr":211,"set":"r","br":2.8},{"to":360,"cr":212,"set":"r","br":2.85},{"to":442,"cr":205,"set":"r","br":2.8},{"to":455,"cr":216,"set":"r","br":2.75}
    ],
    "ref": [
      {"cl":458,"to":460,"cr":350}
    ]
  },
  "resolve": {
    "scale": {"color": "independent", "shape": "shared"},
    "legend": {"color": "independent", "shape": "shared"}
  },
  "hconcat": [
    {
      "spacing": 32,
      "resolve": {
        "scale": {"color": "independent", "shape": "shared"},
        "legend": {"color": "independent", "shape": "shared"}
      },
      "hconcat": [
        {
          "width": 227, "height": 226,
          "title": {"text": ["Abs. Diff. in", "GT overall eff. Δ[%] @ Cruise"]},
          "encoding": {
            "x": {"field": "cl", "type": "quantitative", "scale": {"domain": [250, 550], "nice": false},
                  "axis": {"title": "EFAN Power @ CL [kW]", "values": [250, 300, 350, 400, 450, 500, 550], "labelAngle": -45}},
            "y": {"field": "cr", "type": "quantitative", "scale": {"domain": [200, 425], "nice": false},
                  "axis": {"title": "EFAN Power @ CR [kW]", "values": [200, 250, 300, 350, 400]}}
          },
          "layer": [
            {
              "data": {"name": "cl_cr"},
              "transform": [{"filter": "datum.set === 'r'"}],
              "mark": {"type": "point", "filled": true, "size": 50, "opacity": 1},
              "encoding": {
                "color": {"field": "gt", "type": "quantitative",
                  "scale": {"domain": [-1.5, 1.5], "interpolate": "rgb", "range": ["#352a87","#353dad","#2053d4","#0268e1","#0d75dc","#1481d6","#108ed2","#079ccf","#06a7c6","#0faeb9","#25b5a9","#42bb98","#65be86","#87bf77","#a5be6b","#c0bc60","#d9ba56","#f1b94a","#ffc337","#fad32a","#f5e41d","#f9fb0e"]},
                  "legend": {"title": null, "orient": "right", "gradientLength": 226, "gradientThickness": 20, "offset": 25,
                    "values": [-1.5, -1, -0.5, 0, 0.5, 1, 1.5], "labelExpr": "(datum.value < 0 ? '-' : '') + format(abs(datum.value), '~g')",
                    "labelFont": "Liberation Serif", "labelFontSize": 14.5, "labelColor": "#262626",
                    "gradientStrokeColor": "#888888", "gradientStrokeWidth": 0.8, "labelOverlap": false, "labelBaseline": "middle", "labelOffset": 5}},
                "shape": {"datum": "Acceptable by relaxed constraints", "type": "nominal",
                  "scale": {"domain": ["Reference hybrid design", "Acceptable by initial constraints", "Acceptable by relaxed constraints"], "range": ["circle", "circle", "square"]},
                  "legend": {"title": null, "orient": "bottom", "direction": "horizontal", "offset": 0,
                    "fillColor": "#f0f0f0", "strokeColor": "#000000", "padding": 6,
                    "labelFont": "Liberation Serif", "labelFontSize": 19.5, "labelColor": "#000000", "labelLimit": 400,
                    "symbolSize": 130, "symbolStrokeWidth": 0, "columnPadding": 18, "labelOffset": 8,
                    "encoding": {"symbols": {"fill": {"value": {"expr": "datum.value === 'Reference hybrid design' ? '#ff0000' : '#000000'"}}, "opacity": {"value": 1}}}}}
              }
            },
            {
              "data": {"name": "cl_cr"},
              "transform": [{"filter": "datum.set === 'i'"}],
              "mark": {"type": "point", "filled": true, "size": 125, "opacity": 1, "stroke": "#333333", "strokeWidth": 0.7, "strokeOpacity": 0.6},
              "encoding": {
                "color": {"field": "gt", "type": "quantitative"},
                "shape": {"datum": "Acceptable by initial constraints", "type": "nominal"}
              }
            },
            {
              "data": {"name": "ref"},
              "mark": {"type": "point", "filled": true, "size": 145, "opacity": 1, "color": "#ff0000"},
              "encoding": {"shape": {"datum": "Reference hybrid design", "type": "nominal"}}
            }
          ]
        },
        {
          "width": 227, "height": 226,
          "title": {"text": ["Abs. Diff. in EFAN", "overall eff. Δ[%] @ Cruise"]},
          "encoding": {
            "x": {"field": "cl", "type": "quantitative", "scale": {"domain": [250, 550], "nice": false},
                  "axis": {"title": "EFAN Power @ CL [kW]", "values": [250, 300, 350, 400, 450, 500, 550], "labelAngle": -45}},
            "y": {"field": "cr", "type": "quantitative", "scale": {"domain": [200, 425], "nice": false},
                  "axis": {"title": "EFAN Power @ CR [kW]", "values": [200, 250, 300, 350, 400]}}
          },
          "layer": [
            {
              "data": {"name": "cl_cr"},
              "transform": [{"filter": "datum.set === 'r'"}],
              "mark": {"type": "point", "filled": true, "size": 50, "opacity": 1},
              "encoding": {
                "color": {"field": "ef", "type": "quantitative",
                  "scale": {"domain": [-3.7, 3.9], "interpolate": "rgb", "range": ["#352a87","#353dad","#2053d4","#0268e1","#0d75dc","#1481d6","#108ed2","#079ccf","#06a7c6","#0faeb9","#25b5a9","#42bb98","#65be86","#87bf77","#a5be6b","#c0bc60","#d9ba56","#f1b94a","#ffc337","#fad32a","#f5e41d","#f9fb0e"]},
                  "legend": {"title": null, "orient": "right", "gradientLength": 226, "gradientThickness": 20, "offset": 25,
                    "values": [-3, -2, -1, 0, 1, 2, 3], "labelExpr": "(datum.value < 0 ? '-' : '') + format(abs(datum.value), '~g')",
                    "labelFont": "Liberation Serif", "labelFontSize": 14.5, "labelColor": "#262626",
                    "gradientStrokeColor": "#888888", "gradientStrokeWidth": 0.8, "labelOverlap": false, "labelBaseline": "middle", "labelOffset": 5}},
                "shape": {"datum": "Acceptable by relaxed constraints", "type": "nominal"}
              }
            },
            {
              "data": {"name": "cl_cr"},
              "transform": [{"filter": "datum.set === 'i'"}],
              "mark": {"type": "point", "filled": true, "size": 125, "opacity": 1, "stroke": "#333333", "strokeWidth": 0.7, "strokeOpacity": 0.6},
              "encoding": {
                "color": {"field": "ef", "type": "quantitative"},
                "shape": {"datum": "Acceptable by initial constraints", "type": "nominal"}
              }
            },
            {
              "data": {"name": "ref"},
              "mark": {"type": "point", "filled": true, "size": 145, "opacity": 1, "color": "#ff0000"},
              "encoding": {"shape": {"datum": "Reference hybrid design", "type": "nominal"}}
            }
          ]
        }
      ]
    },
    {
      "width": 240, "height": 240,
      "title": {"text": ["Abs. Diff. in EM-EFAN branch", "overall eff. Δ[%] @ Cruise"]},
      "encoding": {
        "x": {"field": "to", "type": "quantitative", "scale": {"domain": [250, 625], "nice": false},
              "axis": {"title": "EFAN Power @ TO [kW]", "titlePadding": 9, "values": [250, 300, 350, 400, 450, 500, 550, 600], "labelAngle": -45}},
        "y": {"field": "cr", "type": "quantitative", "scale": {"domain": [200, 425], "nice": false},
              "axis": {"title": "EFAN Power @ CR [kW]", "values": [200, 250, 300, 350, 400]}}
      },
      "layer": [
        {
          "data": {"name": "to_cr"},
          "transform": [{"filter": "datum.set === 'r'"}],
          "mark": {"type": "point", "filled": true, "size": 50, "opacity": 1},
          "encoding": {
            "color": {"field": "br", "type": "quantitative",
              "scale": {"domain": [-2.55, 3.17], "interpolate": "rgb", "range": ["#352a87","#353dad","#2053d4","#0268e1","#0d75dc","#1481d6","#108ed2","#079ccf","#06a7c6","#0faeb9","#25b5a9","#42bb98","#65be86","#87bf77","#a5be6b","#c0bc60","#d9ba56","#f1b94a","#ffc337","#fad32a","#f5e41d","#f9fb0e"]},
              "legend": {"title": null, "orient": "right", "gradientLength": 240, "gradientThickness": 19, "offset": 10,
                "values": [-2, -1, 0, 1, 2, 3], "labelExpr": "(datum.value < 0 ? '-' : '') + format(abs(datum.value), '~g')",
                "labelFont": "Liberation Serif", "labelFontSize": 14.5, "labelColor": "#262626",
                "gradientStrokeColor": "#888888", "gradientStrokeWidth": 0.8, "labelOverlap": false, "labelBaseline": "middle", "labelOffset": 5}},
            "shape": {"datum": "Acceptable by relaxed constraints", "type": "nominal"}
          }
        },
        {
          "data": {"name": "to_cr"},
          "transform": [{"filter": "datum.set === 'i'"}],
          "mark": {"type": "point", "filled": true, "size": 125, "opacity": 1, "stroke": "#333333", "strokeWidth": 0.7, "strokeOpacity": 0.6},
          "encoding": {
            "color": {"field": "br", "type": "quantitative"},
            "shape": {"datum": "Acceptable by initial constraints", "type": "nominal"}
          }
        },
        {
          "data": {"name": "ref"},
          "mark": {"type": "point", "filled": true, "size": 145, "opacity": 1, "color": "#ff0000"},
          "encoding": {"shape": {"datum": "Reference hybrid design", "type": "nominal"}}
        }
      ]
    }
  ]
}
